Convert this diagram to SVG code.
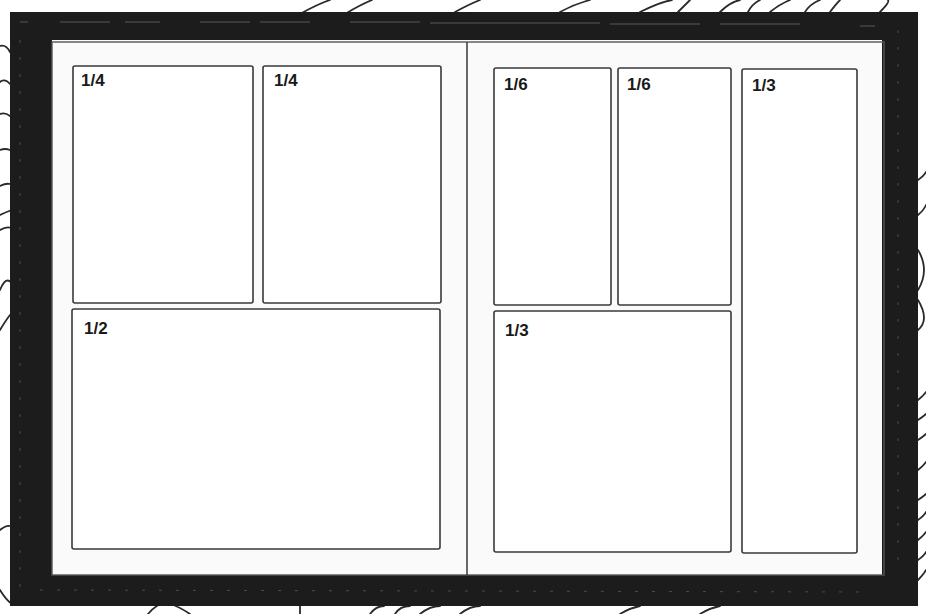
<svg xmlns="http://www.w3.org/2000/svg" width="926" height="614" viewBox="0 0 926 614">
<style>
.panel{fill:#fff;stroke:#3a3a3a;stroke-width:1.6}
.lbl{font-family:"Liberation Sans",Arial,sans-serif;font-weight:bold;font-size:17px;fill:#1a1a1a}
.scr{fill:none;stroke:#2a2a2a;stroke-width:1.8;stroke-linecap:round}
.tex{stroke:#6a6a6a;stroke-width:1;fill:none}
</style>
<rect width="926" height="614" fill="#fff"/>
<g id="scratches">
<path class="scr" d="M300 14 Q318 4 330 0 M345 14 Q360 5 372 0 M455 12 Q470 4 480 0 M560 12 Q575 4 590 0 M640 12 Q660 2 672 0 M678 12 Q686 4 690 0 M720 12 Q730 2 740 0 M748 12 Q752 4 760 0 M770 12 Q780 4 790 0 M805 12 Q810 4 820 0 M830 12 Q836 4 840 0 M880 12 Q890 2 888 0"/>
<path class="scr" d="M0 46 Q6 44 10 52 M0 82 Q5 78 10 84 M0 114 Q5 112 10 116 M0 150 Q5 148 10 150 M0 186 Q6 183 10 184 M0 215 Q6 212 12 210 M0 230 Q6 226 12 228 M0 290 Q8 270 16 292 M0 330 Q6 320 10 315 M0 530 Q6 525 10 526 M0 590 Q6 600 12 604"/>
<path class="scr" d="M918 180 Q924 176 926 172 M918 215 Q924 210 926 205 M918 250 Q930 270 918 290 M918 300 Q930 320 918 330 M918 400 Q924 395 926 392 M918 420 Q924 416 926 414 M918 440 Q924 436 926 434 M918 470 Q924 465 926 462 M918 500 Q924 496 926 494 M918 520 Q924 516 926 512 M918 540 Q924 535 926 532 M918 560 Q924 556 926 552 M918 580 Q924 574 926 570"/>
<path class="scr" d="M148 614 Q160 600 170 604 Q178 606 190 614 M300 606 L300 614 M370 614 Q376 606 384 606 M395 614 Q400 606 410 606 M420 614 Q430 606 440 606 M460 614 Q470 606 480 606 M620 614 Q630 608 640 606 M700 614 Q710 608 720 606"/>
</g>
<g id="frame">
<rect x="10" y="12" width="908" height="594" fill="#1c1c1c"/>
<path class="tex" d="M20 22 L28 22 M60 22 L110 22 M125 22 L160 22 M200 22 L250 22 M260 22 L310 22 M350 22 L420 22 M430 23 L600 23 M610 24 L700 24 M720 24 L800 24 M860 26 L875 26" opacity="0.8"/>
<path class="tex" d="M898 30 L898 570 M20 40 L20 590 M40 590 L870 592" stroke-dasharray="3 14" opacity="0.6"/>
<rect x="52" y="40" width="830" height="535" fill="#fafafa"/>
<rect x="52" y="42" width="832" height="533" fill="none" stroke="#555" stroke-width="1.4"/>
<line x1="467" y1="42" x2="467" y2="575" stroke="#444" stroke-width="1.6"/>
</g>
<g id="p1"><rect class="panel" x="73" y="66" width="180" height="237" rx="2"/><text class="lbl" x="81" y="86">1/4</text></g>
<g id="p2"><rect class="panel" x="263" y="66" width="178" height="237" rx="2"/><text class="lbl" x="274" y="86">1/4</text></g>
<g id="p3"><rect class="panel" x="72" y="309" width="368" height="240" rx="2"/><text class="lbl" x="84" y="334">1/2</text></g>
<g id="p4"><rect class="panel" x="494" y="68" width="117" height="237" rx="2"/><text class="lbl" x="504" y="90">1/6</text></g>
<g id="p5"><rect class="panel" x="618" y="68" width="113" height="237" rx="2"/><text class="lbl" x="627" y="90">1/6</text></g>
<g id="p6"><rect class="panel" x="742" y="69" width="115" height="484" rx="2"/><text class="lbl" x="752" y="91">1/3</text></g>
<g id="p7"><rect class="panel" x="494" y="311" width="237" height="241" rx="2"/><text class="lbl" x="505" y="336">1/3</text></g>
</svg>
